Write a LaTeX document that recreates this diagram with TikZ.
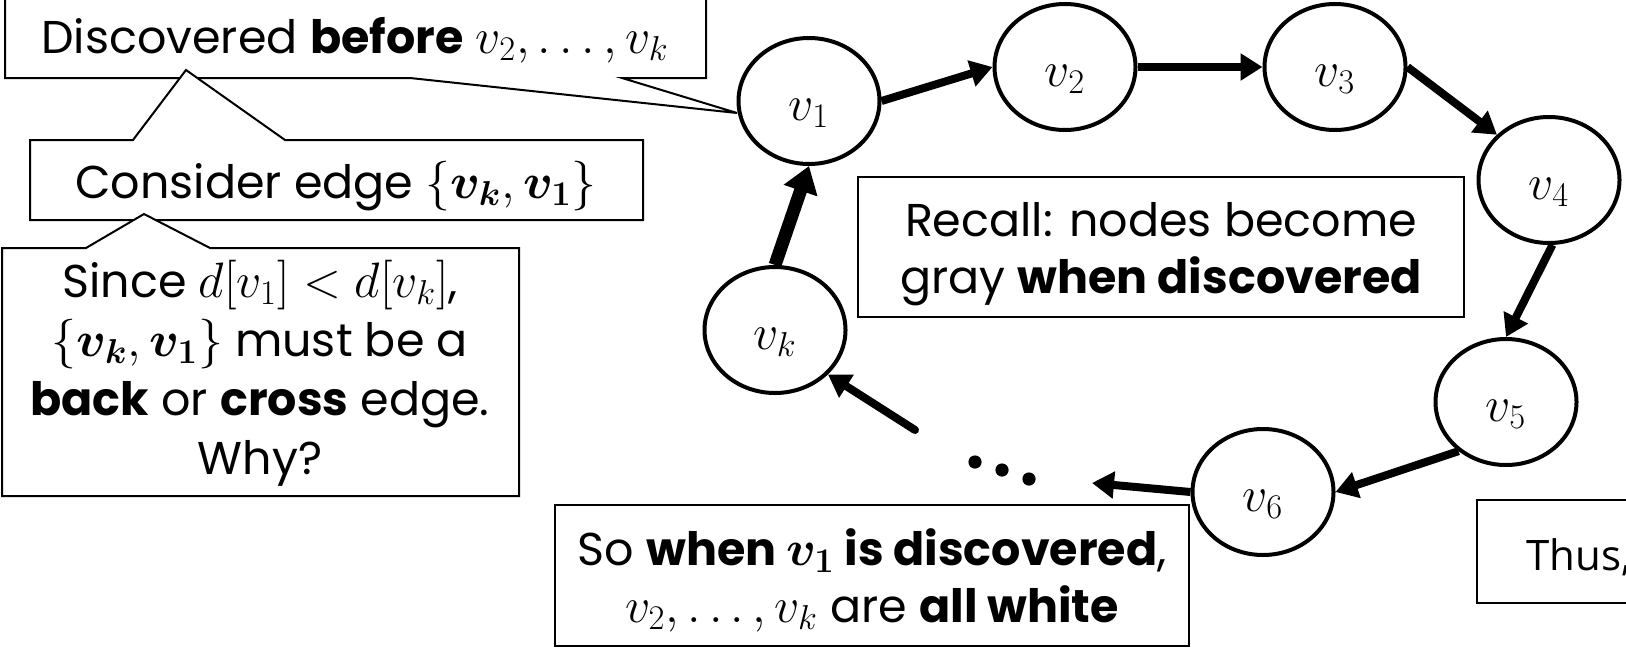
\documentclass[tikz,border=0pt]{standalone}
\usepackage{amsmath}
\usepackage[no-math]{fontspec}
\setmainfont{Poppins}
\newfontfamily\thusfont{Open Sans}
\usetikzlibrary{arrows.meta,shapes.geometric}
\newcommand{\mth}[1]{{\fontsize{25}{25}\selectfont$#1$}}
\newcommand{\lab}[1]{{\fontsize{27}{27}\selectfont$#1$}}
\begin{document}
\begin{tikzpicture}[x=0.5pt,y=-0.5pt,
  vert/.style={ellipse,draw,line width=2pt,minimum width=70.5pt,minimum height=63pt,
    inner sep=0pt,text height=20pt,text depth=1pt,fill=white},
  edge/.style={line width=4pt,-{Triangle[length=11pt,width=13pt]}},
  bigedge/.style={line width=6.5pt,-{Triangle[length=13pt,width=17pt]}},
  box/.style={draw,line width=1pt,fill=white,line join=miter},
  txt/.style={inner sep=0pt,align=center,font=\fontsize{23}{28.5}\selectfont}]
\useasboundingbox (0,0) rectangle (1626,648);
\clip (0,0) rectangle (1626,648);

% callout boxes
\draw[box] (5,-10) -- (706,-10) -- (706,78) -- (622,78) -- (737,113) -- (410,78) -- (5,78) -- cycle;
\node[txt,anchor=base] (tDisc) at (355,53) {Discovered \textbf{before} \mth{v_2,\ldots,v_k}};

\draw[box] (30,140) -- (133,140) -- (186,70) -- (285,140) -- (643,140) -- (643,220) -- (30,220) -- cycle;
\node[txt,anchor=base] (tCons) at (336,198) {Consider edge \mth{\{\boldsymbol{v_k},\boldsymbol{v_1}\}}};

\draw[box] (2,248) -- (86,248) -- (144,214) -- (210,248) -- (519,248) -- (519,496) -- (2,496) -- cycle;
\node[txt,font=\fontsize{23}{29.5}\selectfont] (tSince) at (260,373) {Since \mth{d[v_1]<d[v_k]},\\
  \mth{\{\boldsymbol{v_k},\boldsymbol{v_1}\}} must be a\\
  \textbf{back} or \textbf{cross} edge.\\
  Why?};

\draw[box] (858,177) rectangle (1464,317);
\node[txt] (tRecall) at (1161,254) {Recall: nodes become\\ gray \textbf{when discovered}};

\draw[box] (555,505) rectangle (1189,646);
\node[txt] (tSo) at (872,580) {So \textbf{when \mth{\boldsymbol{v_1}} is discovered},\\ \mth{v_2,\ldots,v_k} are \textbf{all white}};

\draw[box] (1477,500) rectangle (1700,603);
\node[inner sep=0pt,anchor=base west,font=\thusfont\fontsize{21}{21}\selectfont] (tThus) at (1526,570) {Thus,};

% vertices
\node[vert] (v1) at (809,101) {\lab{v_1}};
\node[vert] (v2) at (1065,67) {\lab{v_2}};
\node[vert] (v3) at (1335,67) {\lab{v_3}};
\node[vert] (v4) at (1549,180) {\lab{v_4}};
\node[vert] (v5) at (1506,402) {\lab{v_5}};
\node[vert] (v6) at (1263,492) {\lab{v_6}};
\node[vert] (vk) at (775,330) {\lab{v_k}};

% dots
\fill (975,462) circle[radius=3.3pt];
\fill (1002,470) circle[radius=3.3pt];
\fill (1029,479) circle[radius=3.3pt];
\coordinate (dotsR) at (1092,483);
\coordinate (dotsL) at (915,430);

% edges
\draw[edge] (v1.east) -- (v2.west);
\draw[edge] (v2.east) -- (v3.west);
\draw[edge] (v3.east) -- (v4.139);
\draw[edge] (v4.-87) -- (v5.north);
\draw[edge] (v5.226) -- (v6.east);
\draw[edge] (v6.west) -- (dotsR);
\draw[edge,line cap=round] (dotsL) -- (vk.-40);
\draw[bigedge] (vk.north) -- (v1.south);
\end{tikzpicture}
\end{document}
